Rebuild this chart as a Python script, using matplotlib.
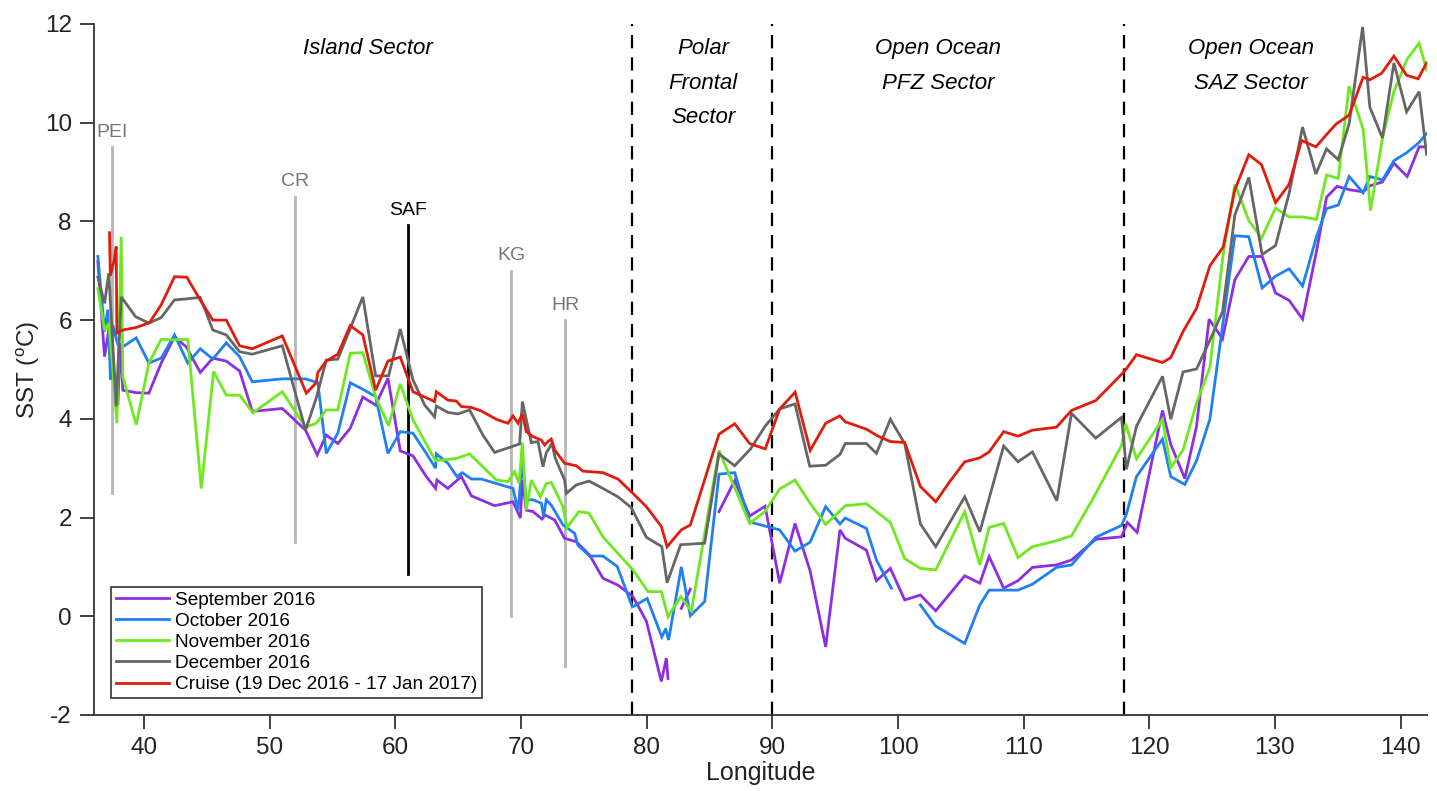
import numpy as np
import matplotlib
matplotlib.use('Agg')
import matplotlib.pyplot as plt

plt.rcParams['font.family'] = ['Liberation Sans', 'DejaVu Sans']
plt.rcParams['mathtext.fontset'] = 'custom'
plt.rcParams['mathtext.rm'] = 'Liberation Sans'
plt.rcParams['axes.unicode_minus'] = False

nan = np.nan

# (longitude, SST); nan marks a gap in the line
sep_2016 = [(36.31, 7.18), (36.84, 5.26), (37.18, 5.80), (37.9, 4.28), (38.09, 5.53), (38.3, 4.58),
            (39.36, 4.53), (40.37, 4.52), (41.35, 5.13), (42.41, 5.66), (43.34, 5.46), (44.46, 4.94),
            (45.46, 5.23), (46.53, 5.17), (47.59, 4.97), (48.6, 4.15), (50.99, 4.21), (52.84, 3.77),
            (53.77, 3.27), (54.49, 3.67), (55.41, 3.50), (56.4, 3.81), (57.4, 4.44), (58.42, 4.28),
            (59.4, 4.82), (60.38, 3.35), (61.39, 3.25), (62.45, 2.83), (63.19, 2.59), (63.3, 2.76),
            (64.17, 2.59), (65.24, 2.83), (66.04, 2.44), (67.89, 2.24), (69.35, 2.32), (69.94, 1.99),
            (70.1, 2.76), (70.41, 2.15), (70.94, 2.12), (71.66, 1.97), (71.93, 2.05), (72.67, 1.95),
            (73.46, 1.58), (74.39, 1.51), (75.45, 1.24), (76.51, 0.77), (77.71, 0.63), (78.9, 0.40),
            (79.97, -0.10), (81.16, -1.32), (81.56, -0.85), (81.69, -1.26), (82.2, nan),
            (82.75, 0.16), (83.47, 0.55), (84.6, nan),
            (85.75, 2.12), (87.0, 2.75), (88.19, 2.03), (89.42, 2.23), (90.58, 0.67), (91.8, 1.88),
            (93.0, 0.92), (94.24, -0.62), (95.38, 1.75), (95.8, 1.58), (97.48, 1.34), (98.28, 0.72),
            (99.39, 0.97), (100.53, 0.33), (101.78, 0.43), (103.0, 0.11), (105.31, 0.82), (106.51, 0.67),
            (107.25, 1.21), (108.41, 0.57), (109.55, 0.72), (110.7, 0.99), (112.61, 1.04), (113.81, 1.14),
            (115.74, 1.56), (117.79, 1.61), (118.25, 1.90), (119.03, 1.70), (121.05, 4.17), (121.71, 3.48),
            (122.83, 2.79), (123.76, 3.85), (124.76, 6.02), (125.83, 5.62), (126.81, 6.82), (127.92, 7.29),
            (128.98, 7.29), (130.05, 6.55), (131.13, 6.40), (132.2, 6.02), (133.31, 7.40), (134.11, 8.49),
            (134.95, 8.71), (135.96, 8.64), (137.02, 8.60), (137.56, 8.72), (138.56, 8.80), (139.47, 9.18),
            (140.53, 8.91), (141.48, 9.51), (142.07, 9.51)]

oct_2016 = [(36.31, 7.29), (36.84, 5.77), (37.1, 6.21), (37.32, 4.79), (37.5, 5.9), (37.9, 5.5),
            (38.3, 5.46), (39.36, 5.64), (40.37, 5.13), (41.35, 5.23), (42.41, 5.70), (43.47, 5.13),
            (44.46, 5.42), (45.46, 5.21), (46.53, 5.54), (47.59, 5.26), (48.6, 4.75), (50.99, 4.81),
            (52.84, 4.81), (53.82, 4.73), (54.49, 3.30), (55.41, 3.71), (56.4, 4.73), (57.4, 4.60),
            (58.42, 4.45), (59.4, 3.30), (60.38, 3.74), (61.39, 3.71), (62.45, 3.30), (63.19, 3.00),
            (63.25, 3.29), (64.17, 3.10), (64.89, 2.83), (65.32, 2.91), (66.04, 2.78), (66.83, 2.78),
            (68.03, 2.69), (69.35, 2.59), (69.75, 2.15), (70.1, 3.10), (70.41, 2.36), (70.94, 2.36),
            (71.61, 2.29), (71.79, 2.02), (72.0, 2.36), (72.4, 2.25), (73.33, 1.85), (74.26, 1.68),
            (74.52, 1.44), (75.45, 1.22), (76.51, 1.22), (77.65, 1.01), (78.85, 0.19), (80.03, 0.36),
            (81.2, -0.42), (81.5, -0.25), (81.74, -0.48), (82.75, 1.00), (83.47, 0.01), (84.61, 0.30),
            (85.75, 2.88), (87.0, 2.91), (88.19, 1.91), (90.58, 1.75), (91.8, 1.32), (93.0, 1.50),
            (94.24, 2.22), (95.38, 1.87), (95.8, 1.99), (97.48, 1.78), (98.28, 1.14), (99.47, 0.57),
            (100.6, nan),
            (101.78, 0.23), (103.0, -0.20), (105.31, -0.55), (106.51, 0.23), (107.25, 0.53), (109.55, 0.53),
            (110.7, 0.65), (112.61, 0.99), (113.81, 1.04), (115.74, 1.60), (117.79, 1.84), (118.18, 2.07),
            (118.98, 2.83), (121.05, 3.59), (121.71, 2.83), (122.83, 2.67), (123.76, 3.15), (124.82, 3.99),
            (126.81, 7.71), (127.92, 7.69), (128.98, 6.65), (130.05, 6.89), (131.13, 7.04), (132.2, 6.69),
            (133.31, 7.69), (134.11, 8.26), (135.04, 8.33), (135.91, 8.91), (137.02, 8.58), (137.56, 8.91),
            (138.56, 8.84), (139.47, 9.23), (140.53, 9.40), (141.48, 9.60), (142.07, 9.78)]

nov_2016 = [(36.31, 6.64), (36.84, 5.80), (37.18, 5.94), (37.5, 5.0), (37.82, 3.91), (38.17, 7.69),
            (38.3, 4.85), (39.36, 3.88), (40.37, 5.13), (41.35, 5.61), (42.41, 5.60), (43.47, 5.61),
            (44.54, 2.59), (45.52, 4.96), (46.53, 4.48), (47.59, 4.48), (48.65, 4.12), (50.99, 4.55),
            (52.84, 3.83), (53.69, 3.91), (54.49, 4.18), (55.41, 4.18), (56.4, 5.33), (57.4, 5.34),
            (58.42, 4.45), (59.45, 3.86), (60.38, 4.71), (61.39, 3.98), (62.45, 3.49), (63.19, 3.15),
            (64.89, 3.20), (65.9, 3.29), (68.03, 2.76), (68.95, 2.73), (69.48, 2.93), (69.83, 2.69),
            (70.1, 3.52), (70.41, 2.15), (70.81, 2.76), (71.53, 2.42), (72.0, 2.69), (72.4, 2.71),
            (73.33, 2.22), (73.65, 1.80), (74.6, 2.12), (75.4, 2.09), (76.51, 1.61), (78.9, 0.94),
            (80.1, 0.50), (81.16, 0.50), (81.69, -0.01), (82.7, 0.40), (83.55, 0.11), (85.75, 3.36),
            (88.19, 1.88), (89.4, 2.12), (90.58, 2.58), (91.8, 2.76), (93.0, 2.29), (94.24, 1.86),
            (95.8, 2.24), (97.48, 2.28), (99.39, 1.90), (100.53, 1.17), (101.78, 0.97), (103.0, 0.94),
            (105.31, 2.12), (106.51, 1.04), (107.25, 1.80), (108.41, 1.88), (109.55, 1.19), (110.7, 1.41),
            (112.61, 1.53), (113.81, 1.63), (115.53, 2.39), (117.79, 3.46), (118.12, 3.90), (118.98, 3.19),
            (121.05, 3.99), (121.71, 3.01), (122.69, 3.37), (123.76, 4.32), (124.82, 5.04), (125.88, 7.33),
            (126.81, 8.75), (127.92, 8.02), (128.93, 7.66), (130.05, 8.27), (131.13, 8.09), (132.25, 8.09),
            (133.31, 8.04), (134.11, 8.94), (135.04, 8.87), (135.9, 10.74), (137.02, 9.87), (137.61, 8.22),
            (138.56, 9.69), (139.47, 10.63), (140.53, 11.29), (141.48, 11.61), (142.07, 11.07)]

dec_2016 = [(36.31, 6.87), (36.84, 6.34), (37.18, 6.95), (37.5, 5.5), (37.77, 4.25), (38.17, 6.47),
            (39.31, 6.07), (40.37, 5.94), (41.35, 6.05), (42.41, 6.41), (43.34, 6.43), (44.46, 6.46),
            (45.46, 5.80), (46.53, 5.70), (47.59, 5.36), (48.6, 5.31), (50.99, 5.48), (52.84, 3.77),
            (53.69, 4.42), (54.49, 5.19), (55.41, 5.21), (56.4, 5.83), (57.4, 6.47), (58.42, 4.87),
            (59.45, 4.87), (60.38, 5.82), (61.39, 4.79), (62.32, 4.28), (63.11, 4.04), (63.25, 4.26),
            (64.17, 4.13), (64.97, 4.10), (65.9, 4.18), (66.96, 3.67), (67.89, 3.32), (69.88, 3.49),
            (70.1, 4.35), (70.81, 3.52), (71.34, 3.54), (71.74, 3.03), (72.0, 3.31), (72.45, 3.50),
            (72.72, 3.20), (73.46, 2.76), (73.6, 2.49), (74.39, 2.66), (75.4, 2.74), (76.51, 2.59),
            (77.71, 2.42), (78.77, 2.20), (79.97, 1.60), (81.2, 1.41), (81.62, 0.68), (82.7, 1.45),
            (84.61, 1.48), (85.75, 3.29), (87.0, 3.05), (88.26, 3.39), (89.42, 3.85), (90.58, 4.20),
            (91.8, 4.30), (92.97, 3.04), (94.24, 3.06), (95.38, 3.28), (95.8, 3.50), (97.48, 3.50),
            (98.28, 3.30), (99.39, 3.99), (100.53, 3.50), (101.78, 1.87), (103.0, 1.41), (105.31, 2.42),
            (106.51, 1.71), (108.41, 3.45), (109.55, 3.13), (110.7, 3.33), (112.64, 2.34), (113.81, 4.11),
            (115.74, 3.61), (117.79, 4.03), (118.18, 2.98), (118.98, 3.85), (121.05, 4.86), (121.71, 3.99),
            (122.69, 4.95), (123.76, 5.01), (124.82, 5.59), (125.83, 6.17), (126.81, 8.13), (127.92, 8.89),
            (128.98, 7.33), (130.05, 7.51), (131.13, 8.57), (132.2, 9.91), (133.26, 8.96), (134.11, 9.47),
            (135.04, 9.25), (135.91, 9.98), (136.98, 11.94), (137.56, 10.31), (138.56, 9.69), (139.47, 11.21),
            (140.48, 10.22), (141.48, 10.63), (142.07, 9.36)]

cruise = [(37.24, 7.77), (37.3, 6.9), (37.6, 7.2), (37.77, 7.49), (37.82, 5.74), (38.3, 5.80),
          (39.36, 5.85), (40.42, 5.95), (41.35, 6.31), (42.41, 6.88), (43.39, 6.87), (44.54, 6.37),
          (45.46, 6.00), (46.53, 6.00), (47.59, 5.48), (48.6, 5.42), (50.99, 5.68), (52.9, 4.52),
          (53.69, 4.73), (53.82, 4.94), (54.49, 5.17), (55.41, 5.31), (56.4, 5.89), (57.4, 5.70),
          (58.42, 4.58), (59.4, 5.17), (60.38, 5.25), (61.39, 4.55), (63.11, 4.35), (63.25, 4.55),
          (64.17, 4.38), (64.84, 4.36), (65.24, 4.25), (66.04, 4.23), (66.83, 4.16), (68.03, 3.99),
          (68.95, 3.91), (69.35, 4.06), (69.75, 3.91), (70.1, 4.10), (70.41, 3.74), (70.94, 3.64),
          (71.61, 3.57), (71.87, 3.47), (72.13, 3.54), (72.4, 3.59), (72.67, 3.37), (73.46, 3.10),
          (74.39, 3.05), (74.92, 2.94), (76.51, 2.91), (77.71, 2.78), (78.9, 2.49), (79.97, 2.22),
          (81.16, 1.82), (81.62, 1.41), (82.75, 1.75), (83.47, 1.85), (85.75, 3.69), (87.0, 3.90),
          (88.19, 3.50), (89.43, 3.39), (90.58, 4.20), (91.81, 4.54), (93.01, 3.36), (94.24, 3.91),
          (95.36, 4.06), (95.8, 3.94), (97.48, 3.79), (98.41, 3.65), (99.39, 3.54), (100.53, 3.52),
          (101.78, 2.63), (103.0, 2.32), (104.12, 2.73), (105.31, 3.13), (106.51, 3.21), (107.25, 3.33),
          (108.41, 3.74), (109.55, 3.65), (110.7, 3.77), (112.61, 3.83), (113.81, 4.17), (115.74, 4.37),
          (118.05, 4.97), (118.98, 5.30), (121.05, 5.14), (121.71, 5.24), (122.69, 5.77), (123.76, 6.24),
          (124.82, 7.10), (125.88, 7.48), (126.81, 8.64), (127.92, 9.35), (128.93, 9.15), (130.05, 8.38),
          (131.13, 8.75), (132.12, 9.64), (133.26, 9.51), (134.11, 9.76), (134.9, 9.98), (135.9, 10.15),
          (137.02, 10.92), (137.56, 10.87), (138.49, 11.00), (139.47, 11.35), (140.48, 10.96), (141.4, 10.89),
          (142.07, 11.21)]

series_labels = ['September 2016', 'October 2016', 'November 2016', 'December 2016',
                 'Cruise (19 Dec 2016 - 17 Jan 2017)']
series_colors = ['#8e2ee3', '#1f80ef', '#6ee81f', '#666666', '#e01c0c']

# fronts / islands marked by short vertical lines
front_names = ['PEI', 'CR', 'SAF', 'KG', 'HR']
front_lon = [37.45, 51.97, 61.0, 69.2, 73.5]
front_top = [9.5, 8.5, 7.93, 7.0, 6.0]
front_bottom = [2.5, 1.5, 0.86, 0.0, -1.0]

sector_edges = [78.8, 90.0, 118.0]
sector_text = [(57.8, ['Island Sector']),
               (84.5, ['Polar', 'Frontal', 'Sector']),
               (103.2, ['Open Ocean', 'PFZ Sector']),
               (128.1, ['Open Ocean', 'SAZ Sector'])]

fig = plt.figure(figsize=(14.37, 7.91), dpi=100)
ax = fig.add_axes([0.0654, 0.0961, 0.9276, 0.8736])

for data, lab, col in zip([sep_2016, oct_2016, nov_2016, dec_2016, cruise], series_labels, series_colors):
    arr = np.array(data)
    ax.plot(arr[:, 0], arr[:, 1], color=col, lw=2.0, label=lab, solid_joinstyle='miter')

for name, x, y0, y1 in zip(front_names, front_lon, front_bottom, front_top):
    if name == 'SAF':
        c, tc = 'black', 'black'
    else:
        c, tc = '#b5b5b5', '#777777'
    ax.plot([x, x], [y0, y1], color=c, lw=2.0, zorder=1)
    ax.text(x, y1 + 0.3, name, color=tc, fontsize=14, ha='center', va='center')

for x in sector_edges:
    ax.axvline(x, color='black', lw=1.6, dashes=(6, 4), zorder=1)

line_y = [11.5, 10.8, 10.1]
for x, lines in sector_text:
    for i, t in enumerate(lines):
        ax.text(x, line_y[i], t, fontsize=16, style='italic', ha='center', va='center')

ax.set_xlim(36, 142.1)
ax.set_ylim(-2, 12)
ax.set_xticks(np.arange(40, 141, 10))
ax.set_yticks(np.arange(-2, 13, 2))
ax.spines['top'].set_visible(False)
ax.spines['right'].set_visible(False)
for s in ['left', 'bottom']:
    ax.spines[s].set_color('#333333')
    ax.spines[s].set_linewidth(1.3)
ax.tick_params(direction='out', length=10, width=1.3, color='#333333', labelsize=17.5,
               labelcolor='#222222', pad=6)
ax.set_xlabel('Longitude', fontsize=18, color='#222222', labelpad=1)
ax.set_ylabel(r'SST ($\mathregular{^o}$C)', fontsize=17.5, color='#222222', labelpad=2)

leg = ax.legend(loc='lower left', bbox_to_anchor=(0.0128, 0.0246), borderaxespad=0,
                fontsize=13.7, fancybox=False, edgecolor='#333333', framealpha=1,
                handlelength=2.8, handletextpad=0.3, labelspacing=0.2, borderpad=0.25)
leg.get_frame().set_linewidth(1.2)

fig.savefig('out.png', dpi=100)
